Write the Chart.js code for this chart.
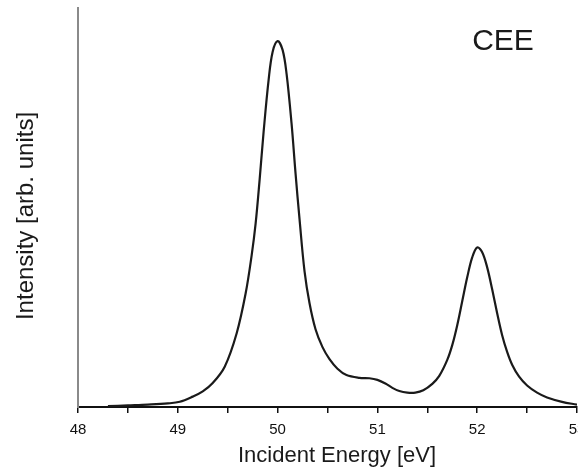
<!DOCTYPE html>
<html>
<head>
<meta charset="utf-8">
<script src="https://cdn.jsdelivr.net/npm/chart.js@4"></script>
<style>
  html, body { margin: 0; padding: 0; background: #fff; overflow: hidden; }
  canvas { display: block; }
</style>
</head>
<body>
<canvas id="myChart" width="600" height="472"></canvas>
<script>
// Spectrum: incident energy (eV) vs intensity (arb. units)
const energy = [48.3, 48.5, 48.7, 48.9, 49.02, 49.15, 49.25, 49.35, 49.47, 49.59,
    49.68, 49.74, 49.78, 49.82, 49.86, 49.91, 49.95, 50.0, 50.05, 50.09,
    50.14, 50.18, 50.22, 50.27, 50.32, 50.38, 50.45, 50.52, 50.6, 50.69,
    50.82, 50.92, 51.0, 51.08, 51.15, 51.22, 51.3, 51.38, 51.46, 51.55,
    51.62, 51.7, 51.75, 51.8, 51.85, 51.9, 51.95, 52.0, 52.05, 52.1,
    52.15, 52.2, 52.25, 52.3, 52.35, 52.42, 52.5, 52.6, 52.7, 52.85,
    53.0];
const intensity = [0.2, 0.4, 0.6, 0.9, 1.3, 2.6, 3.9, 6.0, 10.1, 18.5,
    28.5, 38, 46, 57, 69, 82, 89, 91.7, 89.5, 83.5,
    71, 58.5, 47, 34, 26, 19.5, 15, 12, 9.6, 8.0,
    7.3, 7.2, 6.8, 5.9, 4.8, 4.0, 3.6, 3.6, 4.2, 5.8,
    7.8, 11.8, 15.5, 20.5, 26.5, 32.5, 37.5, 40.0, 38.8, 35,
    29.5, 23.5, 18, 13.8, 10.6, 7.6, 5.4, 3.6, 2.4, 1.3,
    0.6];
const majorTicks = [48, 49, 50, 51, 52, 53];
const seriesLabel = 'CEE';
const xTitle = 'Incident Energy [eV]';
const yTitle = 'Intensity [arb. units]';

const points = energy.map((e, i) => ({ x: e, y: intensity[i] }));
const fontFamily = '"Liberation Sans", Arial, sans-serif';

// series label in the corner and the two axis titles
const annotations = {
    id: 'annotations',
    afterDraw(chart) {
        const ctx = chart.ctx;
        ctx.save();
        ctx.fillStyle = '#1a1a1a';
        ctx.textAlign = 'center';
        ctx.textBaseline = 'middle';

        ctx.font = '30px ' + fontFamily;
        ctx.fillText(seriesLabel, 503, 42);

        ctx.font = '22px ' + fontFamily;
        ctx.fillText(xTitle, 337, 456);

        ctx.font = '24px ' + fontFamily;
        ctx.translate(26, 216);
        ctx.rotate(-Math.PI / 2);
        ctx.fillText(yTitle, 0, 0);
        ctx.restore();
    }
};

const canvas = document.getElementById('myChart');
const myChart = new Chart(canvas, {
    type: 'scatter',
    data: {
        datasets: [{
            label: seriesLabel,
            data: points,
            showLine: true,
            borderColor: '#1a1a1a',
            borderWidth: 2.2,
            pointRadius: 0,
            tension: 0.35,
            fill: false
        }]
    },
    options: {
        responsive: false,
        animation: false,
        layout: { padding: { top: 8, right: 23, bottom: 0, left: 0 } },
        plugins: {
            legend: { display: false },
            tooltip: { enabled: false }
        },
        scales: {
            x: {
                type: 'linear',
                min: 48,
                max: 53,
                afterFit(scale) { scale.height = 65; },
                grid: {
                    drawOnChartArea: false,
                    drawTicks: true,
                    tickLength: 6,
                    color: '#111',
                    lineWidth: 1.5
                },
                border: { display: true, color: '#111', width: 2 },
                ticks: {
                    stepSize: 0.5,
                    autoSkip: false,
                    maxRotation: 0,
                    padding: 8,
                    color: '#111',
                    font: { family: fontFamily, size: 15 },
                    callback: v => majorTicks.includes(v) ? String(v) : ''
                }
            },
            y: {
                min: 0,
                max: 100,
                afterFit(scale) { scale.width = 78; },
                grid: { display: false },
                border: { display: true, color: '#8a8a8a', width: 2 },
                ticks: { display: false }
            }
        }
    },
    plugins: [annotations]
});
</script>
</body>
</html>
